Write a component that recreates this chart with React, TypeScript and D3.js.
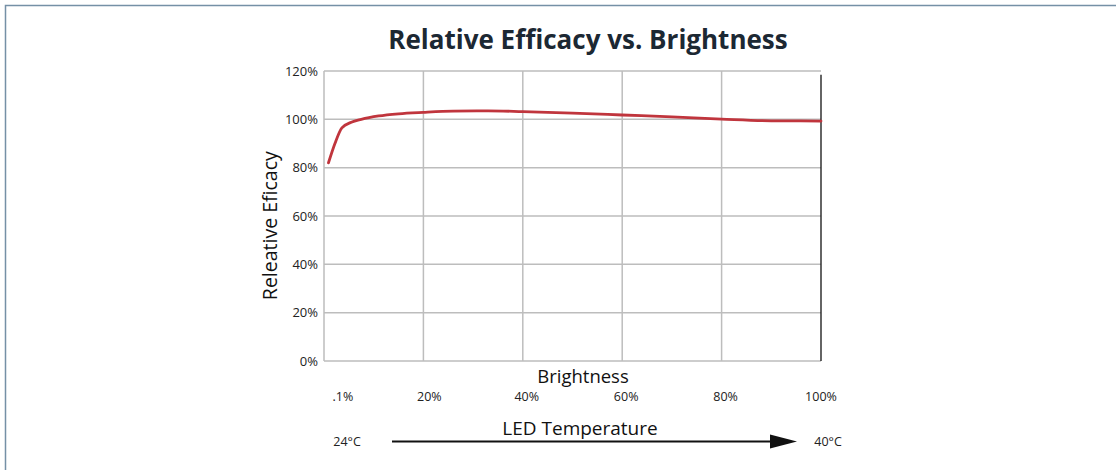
import React from "react";
import * as d3 from "d3";

const brightness = [0.9, 2.2, 3.6, 5.5, 7.5, 11, 15, 20, 26, 33, 40, 50, 60, 70, 80, 90, 100];
const efficacy = [82, 90, 96.5, 98.8, 100, 101.4, 102.3, 102.9, 103.4, 103.5, 103.2, 102.6, 101.8, 101, 100.1, 99.4, 99.3];
const xGrid = [0, 20, 40, 60, 80];
const xTickLabels = [".1%", "20%", "40%", "60%", "80%", "100%"];
const xTickLabelPos = [3.8, 21.2, 40.8, 60.8, 80.8, 100];
const yTicks = [0, 20, 40, 60, 80, 100, 120];

const W = 1116;
const H = 470;
const FONT = "'Open Sans', 'DejaVu Sans', sans-serif";

export default function App() {
  const x = d3.scaleLinear().domain([0, 100]).range([324, 821]);
  const y = d3.scaleLinear().domain([0, 120]).range([361, 71]);
  const line = d3
    .line<number>()
    .x((_, i) => x(brightness[i]))
    .y((d) => y(d))
    .curve(d3.curveMonotoneX);

  const gridColor = "#bdbdbd";

  return (
    <svg
      width={W}
      height={H}
      style={{ position: "absolute", left: 0, top: 0, background: "#fff" }}
      fontFamily={FONT}
    >
      <rect x={0} y={0} width={W} height={H} fill="#fff" />
      {/* frame */}
      <path d={`M5.5,${H} L5.5,5.5 L${W},5.5`} fill="none" stroke="#7590a6" strokeWidth={1.5} />

      {/* title */}
      <text x={588} y={49} textAnchor="middle" fontSize={26} fontWeight={700} fill="#1c2833">
        Relative Efficacy vs. Brightness
      </text>

      {/* horizontal grid */}
      {yTicks.map((t) => (
        <line key={"h" + t} x1={x(0)} x2={x(100)} y1={y(t)} y2={y(t)} stroke={gridColor} strokeWidth={1.5} />
      ))}
      {/* vertical grid */}
      {xGrid.map((t) => (
        <line key={"v" + t} x1={x(t)} x2={x(t)} y1={y(120)} y2={y(0)} stroke={gridColor} strokeWidth={1.5} />
      ))}
      <line x1={x(100)} x2={x(100)} y1={y(118.5)} y2={y(0)} stroke="#111" strokeWidth={1.3} />

      {/* y tick labels */}
      {yTicks.map((t) => (
        <text key={"yl" + t} x={318} y={y(t) + 4.5} textAnchor="end" fontSize={13} fill="#222">
          {t}%
        </text>
      ))}

      {/* y axis title */}
      <text
        transform={`translate(277,${y(56)}) rotate(-90)`}
        textAnchor="middle"
        fontSize={19.5}
        fill="#111"
      >
        Releative Eficacy
      </text>

      {/* curve */}
      <path d={line(efficacy) || ""} fill="none" stroke="#c0353d" strokeWidth={2.8} strokeLinecap="round" />

      {/* x axis title */}
      <text x={583} y={383} textAnchor="middle" fontSize={18.5} fill="#111">
        Brightness
      </text>

      {/* x tick labels */}
      {xTickLabels.map((l, i) => (
        <text key={"xl" + i} x={x(xTickLabelPos[i])} y={401} textAnchor="middle" fontSize={12.5} fill="#222">
          {l}
        </text>
      ))}

      {/* LED temperature */}
      <text x={580} y={435} textAnchor="middle" fontSize={19} fill="#111">
        LED Temperature
      </text>
      <text x={347} y={446} textAnchor="middle" fontSize={12.5} fill="#222">
        24°C
      </text>
      <text x={828} y={446} textAnchor="middle" fontSize={12.5} fill="#222">
        40°C
      </text>
      <line x1={392} x2={772} y1={441.5} y2={441.5} stroke="#111" strokeWidth={2} />
      <path d="M770,434.5 L797,441.5 L770,448.5 Z" fill="#111" />
    </svg>
  );
}
